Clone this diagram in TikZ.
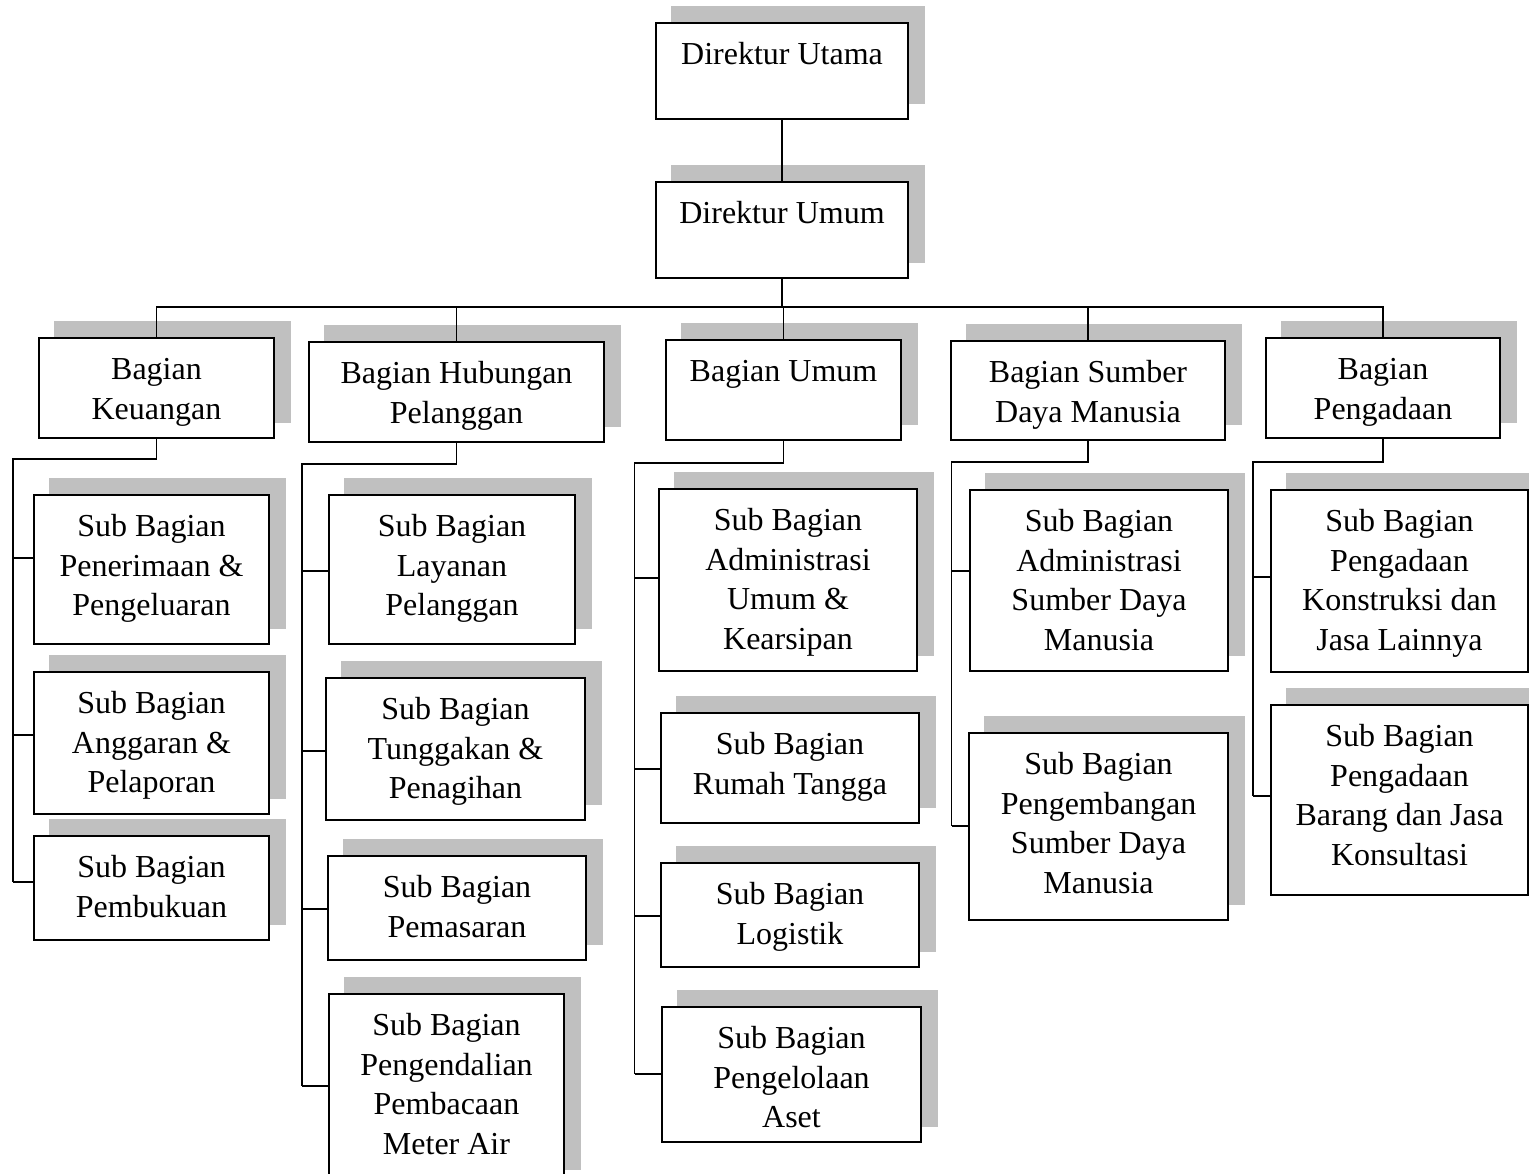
\documentclass[tikz,border=0pt]{standalone}
\usepackage{fontspec}
\setmainfont{Liberation Serif}
\usetikzlibrary{calc}
\definecolor{shd}{RGB}{192,192,192}
\tikzset{
 orgbox/.style={draw=black, line width=2pt, fill=white, inner sep=0pt, outer sep=0pt},
 orgtext/.style={inner sep=0pt, align=center, font=\fontsize{32}{39.5}\selectfont},
 conn/.style={draw=black, line width=1.9pt},
}
\newcommand{\orgnode}[6]{%
 \fill[shd] ({#2+15},{#3-17}) rectangle ({#4+17},{#5-15});
 \node[orgbox, anchor=north west, minimum width={#4-#2}, minimum height={#5-#3}] (#1) at (#2,#3) {};
 \node[orgtext, anchor=north] (#1-t) at (#1.north) {\rule{0pt}{41.5pt}#6};
}
\begin{document}
\begin{tikzpicture}[x=1pt,y=-1pt]
\clip (0,0) rectangle (1529,1173);
\fill[white] (0,0) rectangle (1529,1173);
% top
\orgnode{du}{656}{23}{908}{119}{Direktur Utama}
\orgnode{dm}{656}{182}{908}{278}{Direktur Umum}
% bagian
\orgnode{bk}{39}{338}{274}{438}{Bagian\\Keuangan}
\orgnode{bh}{309}{342}{604}{442}{Bagian Hubungan\\Pelanggan}
\orgnode{bu}{666}{340}{901}{440}{Bagian Umum}
\orgnode{bs}{951}{341}{1225}{440}{Bagian Sumber\\Daya Manusia}
\orgnode{bp}{1266}{338}{1500}{438}{Bagian\\Pengadaan}
% keuangan
\orgnode{k1}{34}{495}{269}{644}{Sub Bagian\\Penerimaan \&\\Pengeluaran}
\orgnode{k2}{34}{672}{269}{814}{Sub Bagian\\Anggaran \&\\Pelaporan}
\orgnode{k3}{34}{836}{269}{940}{Sub Bagian\\Pembukuan}
% hubungan pelanggan
\orgnode{h1}{329}{495}{575}{644}{Sub Bagian\\Layanan\\Pelanggan}
\orgnode{h2}{326}{678}{585}{820}{Sub Bagian\\Tunggakan \&\\Penagihan}
\orgnode{h3}{328}{856}{586}{960}{Sub Bagian\\Pemasaran}
\orgnode{h4}{329}{994}{564}{1185}{Sub Bagian\\Pengendalian\\Pembacaan\\Meter Air}
% umum
\orgnode{u1}{659}{489}{917}{671}{Sub Bagian\\Administrasi\\Umum \&\\Kearsipan}
\orgnode{u2}{661}{713}{919}{823}{Sub Bagian\\Rumah Tangga}
\orgnode{u3}{661}{863}{919}{967}{Sub Bagian\\Logistik}
\orgnode{u4}{662}{1007}{921}{1142}{Sub Bagian\\Pengelolaan\\Aset}
% sdm
\orgnode{s1}{970}{490}{1228}{671}{Sub Bagian\\Administrasi\\Sumber Daya\\Manusia}
\orgnode{s2}{969}{733}{1228}{920}{Sub Bagian\\Pengembangan\\Sumber Daya\\Manusia}
% pengadaan
\orgnode{p1}{1271}{490}{1528}{672}{Sub Bagian\\Pengadaan\\Konstruksi dan\\Jasa Lainnya}
\orgnode{p2}{1271}{705}{1528}{895}{Sub Bagian\\Pengadaan\\Barang dan Jasa\\Konsultasi}
% connectors top
\draw[conn] (du.south) -- (dm.north);
\coordinate (bus) at (782,307);
\draw[conn] (dm.south) -- (bus);
\draw[conn] (bk.north) |- (bus);
\draw[conn] (bh.north) |- (bus);
\draw[conn] (bu.north) |- (bus);
\draw[conn] (bs.north) |- (bus);
\draw[conn] (bp.north) |- (bus);
% keuangan
\coordinate (kA) at (12.7,459);
\coordinate (kb1) at (12.7,558);
\coordinate (kb2) at (12.7,735);
\coordinate (kb3) at (12.7,882);
\draw[conn] (bk.south) |- (kA) -- (kb3);
\draw[conn] (kb1) -- (kb1 -| k1.west);
\draw[conn] (kb2) -- (kb2 -| k2.west);
\draw[conn] (kb3) -- (kb3 -| k3.west);
% hubungan
\coordinate (hA) at (302.3,464);
\coordinate (hb1) at (302.3,571);
\coordinate (hb2) at (302.3,751);
\coordinate (hb3) at (302.3,909);
\coordinate (hb4) at (302.3,1086);
\draw[conn] (bh.south) |- (hA) -- (hb4);
\draw[conn] (hb1) -- (hb1 -| h1.west);
\draw[conn] (hb2) -- (hb2 -| h2.west);
\draw[conn] (hb3) -- (hb3 -| h3.west);
\draw[conn] (hb4) -- (hb4 -| h4.west);
% umum
\coordinate (uA) at (634.5,463);
\coordinate (ub1) at (634.5,578);
\coordinate (ub2) at (634.5,769);
\coordinate (ub3) at (634.5,916);
\coordinate (ub4) at (634.5,1074);
\draw[conn] (bu.south) |- (uA) -- (ub4);
\draw[conn] (ub1) -- (ub1 -| u1.west);
\draw[conn] (ub2) -- (ub2 -| u2.west);
\draw[conn] (ub3) -- (ub3 -| u3.west);
\draw[conn] (ub4) -- (ub4 -| u4.west);
% sdm
\coordinate (sA) at (951.5,461.7);
\coordinate (sb1) at (951.5,571);
\coordinate (sb2) at (951.5,826);
\draw[conn] (bs.south) |- (sA) -- (sb2);
\draw[conn] (sb1) -- (sb1 -| s1.west);
\draw[conn] (sb2) -- (sb2 -| s2.west);
% pengadaan
\coordinate (pA) at (1253,461.7);
\coordinate (pb1) at (1253,577);
\coordinate (pb2) at (1253,796);
\draw[conn] (bp.south) |- (pA) -- (pb2);
\draw[conn] (pb1) -- (pb1 -| p1.west);
\draw[conn] (pb2) -- (pb2 -| p2.west);
\end{tikzpicture}
\end{document}
